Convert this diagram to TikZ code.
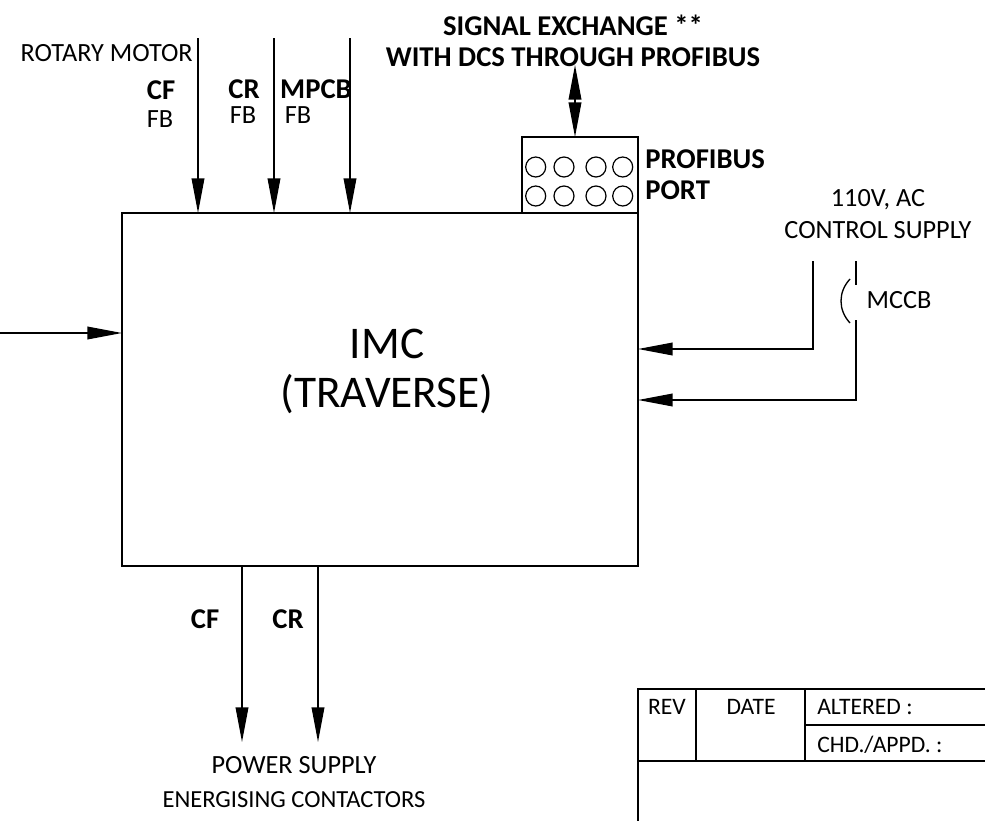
\documentclass[tikz,border=0pt]{standalone}
\usepackage{fontspec}
\setmainfont{Carlito}
\usetikzlibrary{arrows.meta}
\tikzset{
  sigline/.style={line width=1.1pt,-{Triangle[length=26pt,width=9.5pt]}},
  bothline/.style={line width=1.1pt,{Triangle[length=26pt,width=9.5pt]}-{Triangle[length=26pt,width=9.5pt]}},
  plainline/.style={line width=1.1pt},
  pin/.style={draw,circle,line width=.9pt,minimum size=15pt,inner sep=0pt},
  lbl/.style={inner sep=0pt,font=\fontsize{19.7pt}{23.5pt}\selectfont,align=center},
  boldlbl/.style={lbl,font=\fontsize{21.5pt}{23.5pt}\selectfont\bfseries},
  tablbl/.style={inner sep=0pt,font=\fontsize{17.7pt}{20pt}\selectfont},
}
\begin{document}
\begin{tikzpicture}[x=.75pt,y=.75pt,line join=miter]
  \useasboundingbox (0,0) rectangle (985,-821);
  % main unit
  \node[draw,line width=1.1pt,minimum width=387pt,minimum height=264.75pt,inner sep=0pt] (imc) at (380,-389.5) {};
  \node[inner sep=0pt,align=center,font=\fontsize{34pt}{37pt}\selectfont] (imclbl) at (387,-371.5) {IMC\\(TRAVERSE)};
  \node[draw,line width=1.1pt,minimum width=87pt,minimum height=57pt,inner sep=0pt] (port) at (580,-175) {};
  \foreach \px/\pn in {535.7/a,564/b,596/c,622.7/d}{
    \node[pin] (pin\pn1) at (\px,-167) {};
    \node[pin] (pin\pn2) at (\px,-196) {};
  }
  % feedback inputs
  \coordinate (cfa) at (198,-38);
  \coordinate (cfb) at (198,-213);
  \coordinate (cra) at (274,-38);
  \coordinate (crb) at (274,-213);
  \coordinate (mpa) at (350,-38);
  \coordinate (mpb) at (350,-213);
  \draw[sigline] (cfa)--(cfb);
  \draw[sigline] (cra)--(crb);
  \draw[sigline] (mpa)--(mpb);
  \node[lbl,anchor=east] (motor) at (193,-53) {ROTARY MOTOR};
  \node[boldlbl] (cflbl) at (161,-90) {CF};
  \node[lbl] (cffb) at (160,-119) {FB};
  \node[boldlbl] (crlbl) at (244,-89) {CR};
  \node[lbl] (crfb) at (243,-115) {FB};
  \node[boldlbl] (mplbl) at (316,-89) {MPCB};
  \node[lbl] (mpfb) at (298,-115) {FB};
  % profibus
  \coordinate (siga) at (575,-65);
  \coordinate (sigb) at (575,-137);
  \draw[bothline] (siga)--(sigb);
  \node[boldlbl] (sig) at (573,-41) {SIGNAL EXCHANGE **\\WITH DCS THROUGH PROFIBUS};
  \node[boldlbl,align=left,anchor=west] (portlbl) at (645,-175) {PROFIBUS\\PORT};
  % left input
  \coordinate (lefta) at (0,-333);
  \coordinate (leftb) at (122,-333);
  \draw[sigline] (lefta)--(leftb);
  % control supply
  \node[lbl] (ctrl) at (878,-214) {110V, AC\\CONTROL SUPPLY};
  \coordinate (ntop) at (813,-261);
  \coordinate (nbend) at (813,-349);
  \coordinate (nend) at (638,-349);
  \draw[sigline] (ntop)--(nbend)--(nend);
  \coordinate (ltop) at (856,-261);
  \coordinate (lcut) at (856,-285);
  \coordinate (lgo) at (856,-320);
  \coordinate (lbend) at (856,-400);
  \coordinate (lend) at (638,-400);
  \draw[plainline] (ltop)--(lcut);
  \draw[sigline] (lgo)--(lbend)--(lend);
  \draw[line width=1pt] (850,-279) .. controls (838,-292) and (838,-310) .. (850,-323);
  \node[lbl] (mccb) at (899,-300) {MCCB};
  % contactors
  \coordinate (cfc) at (242,-566);
  \coordinate (cfd) at (242,-742);
  \coordinate (crc) at (318,-566);
  \coordinate (crd) at (318,-742);
  \draw[sigline] (cfc)--(cfd);
  \draw[sigline] (crc)--(crd);
  \node[boldlbl] (cfout) at (205,-619) {CF};
  \node[boldlbl] (crout) at (288,-619) {CR};
  \node[lbl] (pwr) at (294,-765) {POWER SUPPLY};
  \node[lbl,font=\fontsize{18.4pt}{22pt}\selectfont] (ener) at (294,-800) {ENERGISING CONTACTORS};
  % revision table
  \draw[plainline] (985,-689)--(638,-689)--(638,-821);
  \draw[plainline] (638,-761)--(985,-761);
  \draw[plainline] (805,-725)--(985,-725);
  \draw[plainline] (696,-689)--(696,-761);
  \draw[plainline] (805,-689)--(805,-761);
  \node[tablbl] (rev) at (667,-707) {REV};
  \node[tablbl] (date) at (751,-707) {DATE};
  \node[tablbl,anchor=west] (alt) at (817,-707) {ALTERED :};
  \node[tablbl,anchor=west] (chd) at (817,-745) {CHD./APPD. :};
\end{tikzpicture}
\end{document}
